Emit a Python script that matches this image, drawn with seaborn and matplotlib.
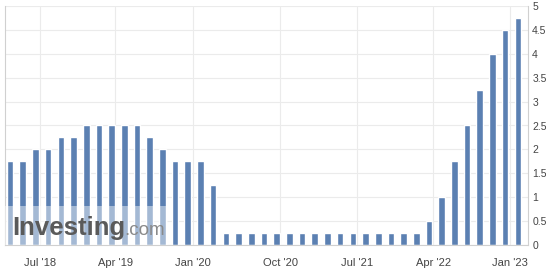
import numpy as np
import pandas as pd
import seaborn as sns
import matplotlib.pyplot as plt

# FOMC decision dates and upper-bound rate (%)
dates = ["2018-03-21", "2018-05-02", "2018-06-13", "2018-08-01", "2018-09-26", "2018-11-08",
         "2018-12-19", "2019-01-30", "2019-03-20", "2019-05-01", "2019-06-19", "2019-07-31",
         "2019-09-18", "2019-10-30", "2019-12-11", "2020-01-29", "2020-03-03", "2020-03-15",
         "2020-04-29", "2020-06-10", "2020-07-29", "2020-09-16", "2020-11-05", "2020-12-16",
         "2021-01-27", "2021-03-17", "2021-04-28", "2021-06-16", "2021-07-28", "2021-09-22",
         "2021-11-03", "2021-12-15", "2022-01-26", "2022-03-16", "2022-05-04", "2022-06-15",
         "2022-07-27", "2022-09-21", "2022-11-02", "2022-12-14", "2023-02-01"]
rates = [1.75, 1.75, 2.0, 2.0, 2.25, 2.25, 2.5, 2.5, 2.5, 2.5, 2.5, 2.25, 2.0, 1.75, 1.75, 1.75,
         1.25, 0.25, 0.25, 0.25, 0.25, 0.25, 0.25, 0.25, 0.25, 0.25, 0.25, 0.25, 0.25, 0.25,
         0.25, 0.25, 0.25, 0.5, 1.0, 1.75, 2.5, 3.25, 4.0, 4.5, 4.75]
tick_dates = ["2018-07-01", "2019-04-01", "2020-01-01", "2020-10-01", "2021-07-01",
              "2022-04-01", "2023-01-01"]
tick_labels = ["Jul '18", "Apr '19", "Jan '20", "Oct '20", "Jul '21", "Apr '22", "Jan '23"]

df = pd.DataFrame({"date": pd.to_datetime(dates), "rate": rates})
df["idx"] = np.arange(len(df))

sns.set_style("white")
plt.rcParams["font.family"] = ["Liberation Sans", "DejaVu Sans"]

fig = plt.figure(figsize=(5.46, 2.69), dpi=100)
ax = fig.add_axes([5 / 546, 24 / 269, 523 / 546, 239 / 269])

sns.barplot(data=df, x="idx", y="rate", color="#5b80b2", saturation=1, width=0.52, ax=ax)

# tick positions: interpolate label dates onto the (evenly spaced) bar index
t = df["date"].astype("int64").to_numpy()
tick_pos = np.interp(pd.to_datetime(tick_dates).astype("int64").to_numpy(), t, df["idx"].to_numpy())
ax.set_xticks(tick_pos)
ax.set_xticklabels(tick_labels)
ax.set_xlim(-0.4, 40.8)
ax.set_ylim(0, 5)
ax.set_yticks(np.arange(0, 5.01, 0.5))
ax.set_yticklabels(["0", "0.5", "1", "1.5", "2", "2.5", "3", "3.5", "4", "4.5", "5"])
ax.yaxis.tick_right()
ax.set_xlabel("")
ax.set_ylabel("")
ax.tick_params(axis="both", length=0, labelcolor="#444444")
ax.tick_params(axis="x", pad=9, labelsize=8)
ax.tick_params(axis="y", pad=3, labelsize=7.5)
ax.grid(True, color="#ebebeb", linewidth=0.8)
ax.set_axisbelow(True)
for s in ["left", "right", "bottom"]:
    ax.spines[s].set_color("#d0d0d0")
    ax.spines[s].set_linewidth(0.8)
ax.spines["top"].set_visible(False)

# watermark
ax.add_patch(plt.Rectangle((0, 0), 0.312, 0.165, transform=ax.transAxes,
                           facecolor="white", alpha=0.45, edgecolor="none", zorder=5))
ax.text(0.013, 0.04, "Investing", transform=ax.transAxes, fontsize=18.5, fontweight="bold",
        color="#5a5a5a", zorder=6, va="baseline")
ax.text(0.228, 0.04, ".com", transform=ax.transAxes, fontsize=13.5,
        color="#8a8a8a", zorder=6, va="baseline")

fig.savefig("out.png", dpi=100)
